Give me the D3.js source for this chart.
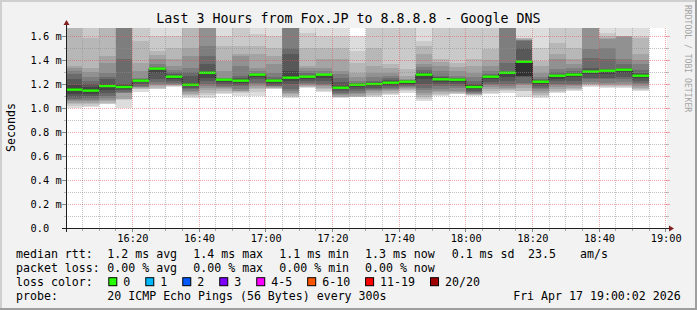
<!DOCTYPE html>
<html lang="en">
<head>
<meta charset="UTF-8">
<title>Last 3 Hours from Fox.JP to 8.8.8.8</title>
<script src="https://d3js.org/d3.v7.min.js"></script>
<style>
  body { margin: 0; background: #ffffff; }
  svg text { font-family: "DejaVu Sans Mono", monospace; fill: #000; }
</style>
</head>
<body>
<svg id="chart" width="697" height="310"></svg>
<script>
// ---- data ----
const title = "Last 3 Hours from Fox.JP to 8.8.8.8 - Google DNS";
const yTitle = "Seconds";
const watermark = "RRDTOOL / TOBI OETIKER";

// 5 minute steps, start of each step
const times = ["16:00","16:05","16:10","16:15","16:20","16:25","16:30","16:35","16:40","16:45",
  "16:50","16:55","17:00","17:05","17:10","17:15","17:20","17:25","17:30","17:35",
  "17:40","17:45","17:50","17:55","18:00","18:05","18:10","18:15","18:20","18:25",
  "18:30","18:35","18:40","18:45","18:50"];

// median rtt in ms
const medians = [1.153,1.145,1.183,1.175,1.228,1.328,1.261,1.194,1.294,1.236,
  1.228,1.278,1.228,1.253,1.261,1.278,1.169,1.194,1.200,1.211,
  1.219,1.278,1.239,1.236,1.175,1.261,1.294,1.386,1.219,1.269,
  1.278,1.303,1.311,1.319,1.269];

// lost pings per step (of 20)
const loss = [0,0,0,0,0,0,0,0,0,0,0,0,0,0,0,0,0,0,0,0,0,0,0,0,0,0,0,0,0,0,0,0,0,0,0];

// the 20 sorted pings of each step in ms (smoke)
const pings = [
  [1.003,1.017,1.03,1.045,1.058,1.065,1.075,1.09,1.12,1.14,1.165,1.19,1.24,1.28,1.31,1.33,1.35,1.72,1.8,1.9],
  [1.01,1.02,1.035,1.045,1.058,1.07,1.08,1.1,1.12,1.135,1.155,1.175,1.2,1.225,1.26,1.3,1.336,1.586,1.75,1.85],
  [1.03,1.035,1.045,1.055,1.07,1.086,1.1,1.128,1.15,1.178,1.188,1.2,1.239,1.26,1.294,1.378,1.433,1.72,1.8,1.9],
  [1.003,1.07,1.072,1.075,1.125,1.128,1.13,1.15,1.16,1.17,1.18,1.19,1.197,1.406,1.7,1.75,1.8,1.85,1.9,1.95],
  [1.136,1.156,1.158,1.165,1.172,1.178,1.183,1.2,1.215,1.225,1.232,1.236,1.24,1.245,1.253,1.308,1.378,1.558,1.75,1.85],
  [1.155,1.16,1.17,1.18,1.19,1.2,1.215,1.239,1.29,1.322,1.331,1.333,1.336,1.34,1.37,1.406,1.44,1.475,1.6,1.8],
  [1.178,1.18,1.183,1.19,1.195,1.2,1.211,1.225,1.24,1.257,1.265,1.27,1.281,1.3,1.32,1.35,1.406,1.503,1.6,1.8],
  [1.086,1.1,1.11,1.12,1.13,1.142,1.16,1.17,1.18,1.19,1.2,1.211,1.267,1.3,1.336,1.433,1.503,1.72,1.8,1.9],
  [1.086,1.11,1.128,1.15,1.169,1.183,1.2,1.225,1.25,1.29,1.3,1.308,1.364,1.433,1.517,1.7,1.75,1.8,1.85,1.9],
  [1.114,1.128,1.142,1.16,1.165,1.175,1.183,1.2,1.22,1.233,1.239,1.242,1.245,1.25,1.253,1.308,1.392,1.517,1.6,1.8],
  [1.1,1.128,1.135,1.14,1.142,1.16,1.183,1.195,1.21,1.224,1.232,1.24,1.25,1.267,1.35,1.433,1.45,1.517,1.75,1.85],
  [1.1,1.13,1.156,1.17,1.183,1.2,1.211,1.24,1.26,1.275,1.28,1.282,1.285,1.29,1.31,1.336,1.447,1.517,1.62,1.8],
  [1.156,1.16,1.165,1.17,1.175,1.18,1.183,1.195,1.21,1.225,1.23,1.235,1.239,1.26,1.294,1.364,1.433,1.5,1.6,1.8],
  [1.086,1.09,1.1,1.114,1.128,1.14,1.156,1.2,1.225,1.245,1.267,1.308,1.447,1.503,1.7,1.75,1.8,1.85,1.9,1.95],
  [1.17,1.174,1.178,1.183,1.19,1.2,1.211,1.225,1.245,1.258,1.263,1.265,1.267,1.29,1.308,1.33,1.35,1.503,1.628,1.8],
  [1.136,1.142,1.156,1.169,1.183,1.19,1.197,1.225,1.25,1.275,1.28,1.281,1.283,1.285,1.31,1.336,1.406,1.503,1.6,1.8],
  [1.086,1.088,1.09,1.095,1.11,1.12,1.128,1.142,1.155,1.165,1.175,1.183,1.22,1.253,1.28,1.308,1.406,1.5,1.6,1.8],
  [1.09,1.092,1.095,1.1,1.114,1.128,1.142,1.16,1.175,1.19,1.197,1.2,1.205,1.21,1.225,1.26,1.294,1.378,1.475,1.6],
  [1.095,1.1,1.11,1.128,1.142,1.15,1.16,1.169,1.185,1.195,1.205,1.21,1.215,1.225,1.26,1.294,1.35,1.5,1.75,1.85],
  [1.108,1.12,1.128,1.142,1.15,1.16,1.169,1.183,1.195,1.207,1.215,1.225,1.235,1.253,1.27,1.294,1.33,1.364,1.75,1.85],
  [1.128,1.14,1.15,1.156,1.165,1.175,1.183,1.19,1.2,1.216,1.222,1.224,1.227,1.23,1.236,1.245,1.267,1.322,1.75,1.85],
  [1.058,1.072,1.09,1.11,1.128,1.15,1.169,1.2,1.24,1.27,1.285,1.294,1.3,1.32,1.34,1.364,1.45,1.517,1.558,1.8],
  [1.1,1.11,1.12,1.13,1.142,1.16,1.183,1.2,1.22,1.235,1.245,1.25,1.26,1.267,1.31,1.35,1.38,1.406,1.75,1.85],
  [1.114,1.12,1.128,1.135,1.142,1.165,1.183,1.2,1.215,1.232,1.24,1.244,1.248,1.253,1.27,1.308,1.34,1.378,1.75,1.85],
  [1.1,1.105,1.11,1.114,1.12,1.128,1.135,1.142,1.16,1.17,1.18,1.19,1.2,1.225,1.26,1.294,1.35,1.406,1.75,1.85],
  [1.114,1.128,1.14,1.156,1.175,1.19,1.2,1.22,1.24,1.257,1.265,1.27,1.275,1.281,1.31,1.35,1.4,1.489,1.75,1.85],
  [1.128,1.14,1.15,1.16,1.17,1.183,1.2,1.225,1.26,1.29,1.298,1.302,1.308,1.378,1.7,1.75,1.8,1.85,1.9,1.95],
  [1.095,1.142,1.145,1.17,1.19,1.2,1.211,1.26,1.265,1.267,1.388,1.392,1.503,1.558,1.565,1.57,1.575,1.583,1.586,1.8],
  [1.086,1.1,1.11,1.128,1.142,1.156,1.169,1.183,1.2,1.215,1.222,1.226,1.232,1.239,1.26,1.294,1.35,1.392,1.503,1.8],
  [1.128,1.135,1.145,1.156,1.175,1.19,1.2,1.225,1.245,1.265,1.273,1.277,1.281,1.3,1.322,1.406,1.45,1.544,1.75,1.85],
  [1.142,1.15,1.16,1.169,1.183,1.19,1.197,1.225,1.255,1.274,1.282,1.288,1.294,1.31,1.336,1.37,1.406,1.503,1.75,1.85],
  [1.175,1.183,1.19,1.197,1.2,1.22,1.239,1.25,1.28,1.3,1.306,1.31,1.336,1.42,1.489,1.7,1.75,1.8,1.85,1.9],
  [1.169,1.175,1.183,1.19,1.197,1.21,1.239,1.253,1.28,1.305,1.313,1.316,1.322,1.406,1.503,1.572,1.58,1.6,1.628,1.8],
  [1.17,1.175,1.183,1.19,1.2,1.22,1.239,1.26,1.29,1.315,1.322,1.326,1.336,1.37,1.406,1.594,1.596,1.598,1.6,1.8],
  [1.142,1.15,1.156,1.169,1.183,1.2,1.211,1.225,1.25,1.265,1.273,1.28,1.294,1.32,1.364,1.4,1.447,1.58,1.6,1.8]
];

// axis ticks
const yTicks = [0, 0.2, 0.4, 0.6, 0.8, 1.0, 1.2, 1.4, 1.6];
const yLabels = ["0.0", "0.2 m", "0.4 m", "0.6 m", "0.8 m", "1.0 m", "1.2 m", "1.4 m", "1.6 m"];
const xTicks = ["16:20","16:40","17:00","17:20","17:40","18:00","18:20","18:40","19:00"];

// legend
const rttLabel = "median rtt:";
const rttItems = ["1.2 ms avg", "1.4 ms max", "1.1 ms min", "1.3 ms now", "0.1 ms sd", "23.5", "am/s"];
const lossLabel = "packet loss:";
const lossItems = ["0.00 % avg", "0.00 % max", "0.00 % min", "0.00 % now"];
const colorLabel = "loss color:";
const lossNames = ["0", "1", "2", "3", "4-5", "6-10", "11-19", "20/20"];
const lossUpper = [0, 1, 2, 3, 5, 10, 19, 20];
const lossColors = ["#26ff00", "#00b8ff", "#0059ff", "#7e00ff", "#ff00ff", "#ff5500", "#ff0000", "#a00000"];
const probeLabel = "probe:";
const probeText = "20 ICMP Echo Pings (56 Bytes) every 300s";
const stamp = "Fri Apr 17 19:00:02 2026";

// smoke shades, outer pair of pings lightest
const smokeShades = ["#dddddd","#cacaca","#b7b7b7","#a4a4a4","#919191","#7e7e7e","#6b6b6b","#585858","#454545","#323232"];

// ---- drawing ----
const W = 697, H = 310;
const svg = d3.select("#chart");

const parse = s => { const [h, m] = s.split(":").map(Number); return new Date(2026, 3, 17, h, m); };

const x = d3.scaleTime().domain([parse("16:00"), parse("19:00")]).range([65.7, 665.7]);
const y = d3.scaleLinear().domain([0, 200 / 120]).range([228, 28]);
const lossColor = d3.scaleThreshold().domain(lossUpper.slice(0, -1).map(d => d + 0.5)).range(lossColors);

// background + 3d border
svg.append("rect").attr("width", W).attr("height", H).attr("fill", "#f2f2f2");
svg.append("rect").attr("x", 0).attr("y", 0).attr("width", W).attr("height", 2).attr("fill", "#cfcfcf");
svg.append("rect").attr("x", 0).attr("y", 0).attr("width", 2).attr("height", H).attr("fill", "#cfcfcf");
svg.append("rect").attr("x", 0).attr("y", H - 2).attr("width", W).attr("height", 2).attr("fill", "#9e9e9e");
svg.append("rect").attr("x", W - 2).attr("y", 0).attr("width", 2).attr("height", H).attr("fill", "#9e9e9e");

// canvas
svg.append("rect").attr("x", 66).attr("y", 28).attr("width", 601).attr("height", 200).attr("fill", "#ffffff");

svg.append("defs").append("clipPath").attr("id", "clip")
  .append("rect").attr("x", 66).attr("y", 28).attr("width", 601).attr("height", 200);

const bars = times.map((t, i) => ({
  t0: parse(t),
  t1: d3.timeMinute.offset(parse(t), 5),
  p: pings[i],
  med: medians[i],
  loss: loss[i]
}));

const plot = svg.append("g").attr("clip-path", "url(#clip)");

// smoke: layer k spans ping k .. ping 19-k
const layers = bars.flatMap(b => d3.range(10).map(k => ({ b, k, lo: b.p[k], hi: b.p[19 - k] })));
plot.append("g").attr("shape-rendering", "crispEdges")
  .selectAll("rect").data(layers).join("rect")
  .attr("x", d => x(d.b.t0))
  .attr("width", d => x(d.b.t1) - x(d.b.t0))
  .attr("y", d => y(d.hi))
  .attr("height", d => y(d.lo) - y(d.hi))
  .attr("fill", d => smokeShades[d.k]);

// median: dark step line + loss coloured band
const stepPts = bars.map(b => [x(b.t0), y(b.med)]);
stepPts.push([x(bars[bars.length - 1].t1), y(bars[bars.length - 1].med)]);
plot.append("path")
  .attr("d", d3.line().curve(d3.curveStepAfter)(stepPts))
  .attr("fill", "none").attr("stroke", "#202020").attr("stroke-width", 1);

plot.append("g").selectAll("rect").data(bars).join("rect")
  .attr("x", d => x(d.t0))
  .attr("width", d => x(d.t1) - x(d.t0))
  .attr("y", d => y(d.med) - 1.2)
  .attr("height", 2.4)
  .attr("fill", d => lossColor(d.loss));

// grid on top
const grid = svg.append("g").attr("shape-rendering", "crispEdges");
const minorColor = "rgba(143,143,143,0.55)";
const majorColor = "rgba(222,79,79,0.5)";
const yMinor = d3.range(1, 17).map(d => d / 10).filter(v => Math.round(v * 10) % 2 === 1);
const xAll = d3.timeMinute.every(5).range(d3.timeMinute.offset(x.domain()[0], 5), d3.timeMinute.offset(x.domain()[1], 1));
const xMajorSet = new Set(xTicks);
const fmt = d3.timeFormat("%H:%M");
const px = v => Math.floor(x(v)) + 0.5;
const py = v => Math.floor(y(v)) + 0.5;

yMinor.forEach(v => {
  grid.append("line").attr("x1", 66).attr("x2", 667).attr("y1", py(v)).attr("y2", py(v))
    .attr("stroke", minorColor).attr("stroke-dasharray", "1,1");
  grid.append("line").attr("x1", 64).attr("x2", 66).attr("y1", py(v)).attr("y2", py(v)).attr("stroke", minorColor);
  grid.append("line").attr("x1", 666).attr("x2", 669).attr("y1", py(v)).attr("y2", py(v)).attr("stroke", minorColor);
});
yTicks.filter(v => v > 0).forEach(v => {
  grid.append("line").attr("x1", 66).attr("x2", 667).attr("y1", py(v)).attr("y2", py(v))
    .attr("stroke", majorColor).attr("stroke-dasharray", "1,1");
  grid.append("line").attr("x1", 62).attr("x2", 66).attr("y1", py(v)).attr("y2", py(v)).attr("stroke", "#888");
  grid.append("line").attr("x1", 666).attr("x2", 670).attr("y1", py(v)).attr("y2", py(v)).attr("stroke", majorColor);
});
xAll.forEach(t => {
  const major = xMajorSet.has(fmt(t));
  grid.append("line").attr("x1", px(t)).attr("x2", px(t)).attr("y1", 28).attr("y2", 228)
    .attr("stroke", major ? majorColor : minorColor).attr("stroke-dasharray", "1,1");
  grid.append("line").attr("x1", px(t)).attr("x2", px(t)).attr("y1", 228).attr("y2", major ? 232 : 231)
    .attr("stroke", major ? "#888" : "#aaa");
});

// axes lines + arrows
svg.append("line").attr("x1", 62).attr("x2", 670).attr("y1", 228.5).attr("y2", 228.5)
  .attr("stroke", "#1f1f1f").attr("shape-rendering", "crispEdges");
svg.append("line").attr("x1", 66.5).attr("x2", 66.5).attr("y1", 232).attr("y2", 24)
  .attr("stroke", "#1f1f1f").attr("shape-rendering", "crispEdges");
svg.append("path").attr("d", "M669,225.5L674,228.5L669,231.5Z").attr("fill", "#801f1f");
svg.append("path").attr("d", "M63.5,25L66.5,20L69.5,25Z").attr("fill", "#801f1f");

// tick labels
const xAxis = svg.append("g").attr("transform", "translate(0,228)")
  .call(d3.axisBottom(x).tickValues(xTicks.map(parse)).tickFormat(fmt).tickSize(0).tickPadding(7));
xAxis.select(".domain").remove();
xAxis.selectAll("text").attr("font-size", "10.3px").attr("font-family", "DejaVu Sans Mono").attr("fill", "#000");

const yAxis = svg.append("g").attr("transform", "translate(66,0)")
  .call(d3.axisLeft(y).tickValues(yTicks).tickFormat((d, i) => yLabels[i]).tickSize(0).tickPadding(5));
yAxis.select(".domain").remove();
yAxis.selectAll("text").attr("font-size", "10.3px").attr("font-family", "DejaVu Sans Mono")
  .attr("fill", "#000").attr("text-anchor", "start").attr("x", 30.6 - 66);

// title, y title, watermark
svg.append("text").attr("x", 348.5).attr("y", 23).attr("text-anchor", "middle")
  .attr("font-size", "13.3px").text(title);
svg.append("text").attr("transform", "translate(14.5,127.5) rotate(-90)").attr("text-anchor", "middle")
  .attr("font-size", "11.6px").text(yTitle);
svg.append("text").attr("transform", "translate(685,5) rotate(90)")
  .attr("font-size", "8.1px").style("fill", "#a4a4a4").text(watermark);

// legend
const lg = svg.append("g").attr("font-size", "11.6px");
const rowY = [258.3, 272.3, 286.2, 300.2];
const colX = [107.3, 193.3, 279.3, 365, 451.7, 528, 580];

lg.append("text").attr("x", 16).attr("y", rowY[0]).text(rttLabel);
rttItems.forEach((s, i) => lg.append("text").attr("x", colX[i]).attr("y", rowY[0]).text(s));

lg.append("text").attr("x", 16).attr("y", rowY[1]).text(lossLabel);
lossItems.forEach((s, i) => lg.append("text").attr("x", colX[i]).attr("y", rowY[1]).text(s));

lg.append("text").attr("x", 16).attr("y", rowY[2]).text(colorLabel);
let sx = 108.3;
lossNames.forEach((name, i) => {
  lg.append("rect").attr("x", sx + 0.5).attr("y", rowY[2] - 8.5).attr("width", 8).attr("height", 8)
    .attr("fill", lossColors[i]).attr("stroke", "#000").attr("stroke-width", 1);
  const t = lg.append("text").attr("x", sx + 15).attr("y", rowY[2]).text(name);
  sx += 15 + t.node().getComputedTextLength() + 15;
});

lg.append("text").attr("x", 16).attr("y", rowY[3]).text(probeLabel);
lg.append("text").attr("x", colX[0]).attr("y", rowY[3]).text(probeText);
lg.append("text").attr("x", 680.7).attr("y", rowY[3]).attr("text-anchor", "end").text(stamp);
</script>
</body>
</html>
